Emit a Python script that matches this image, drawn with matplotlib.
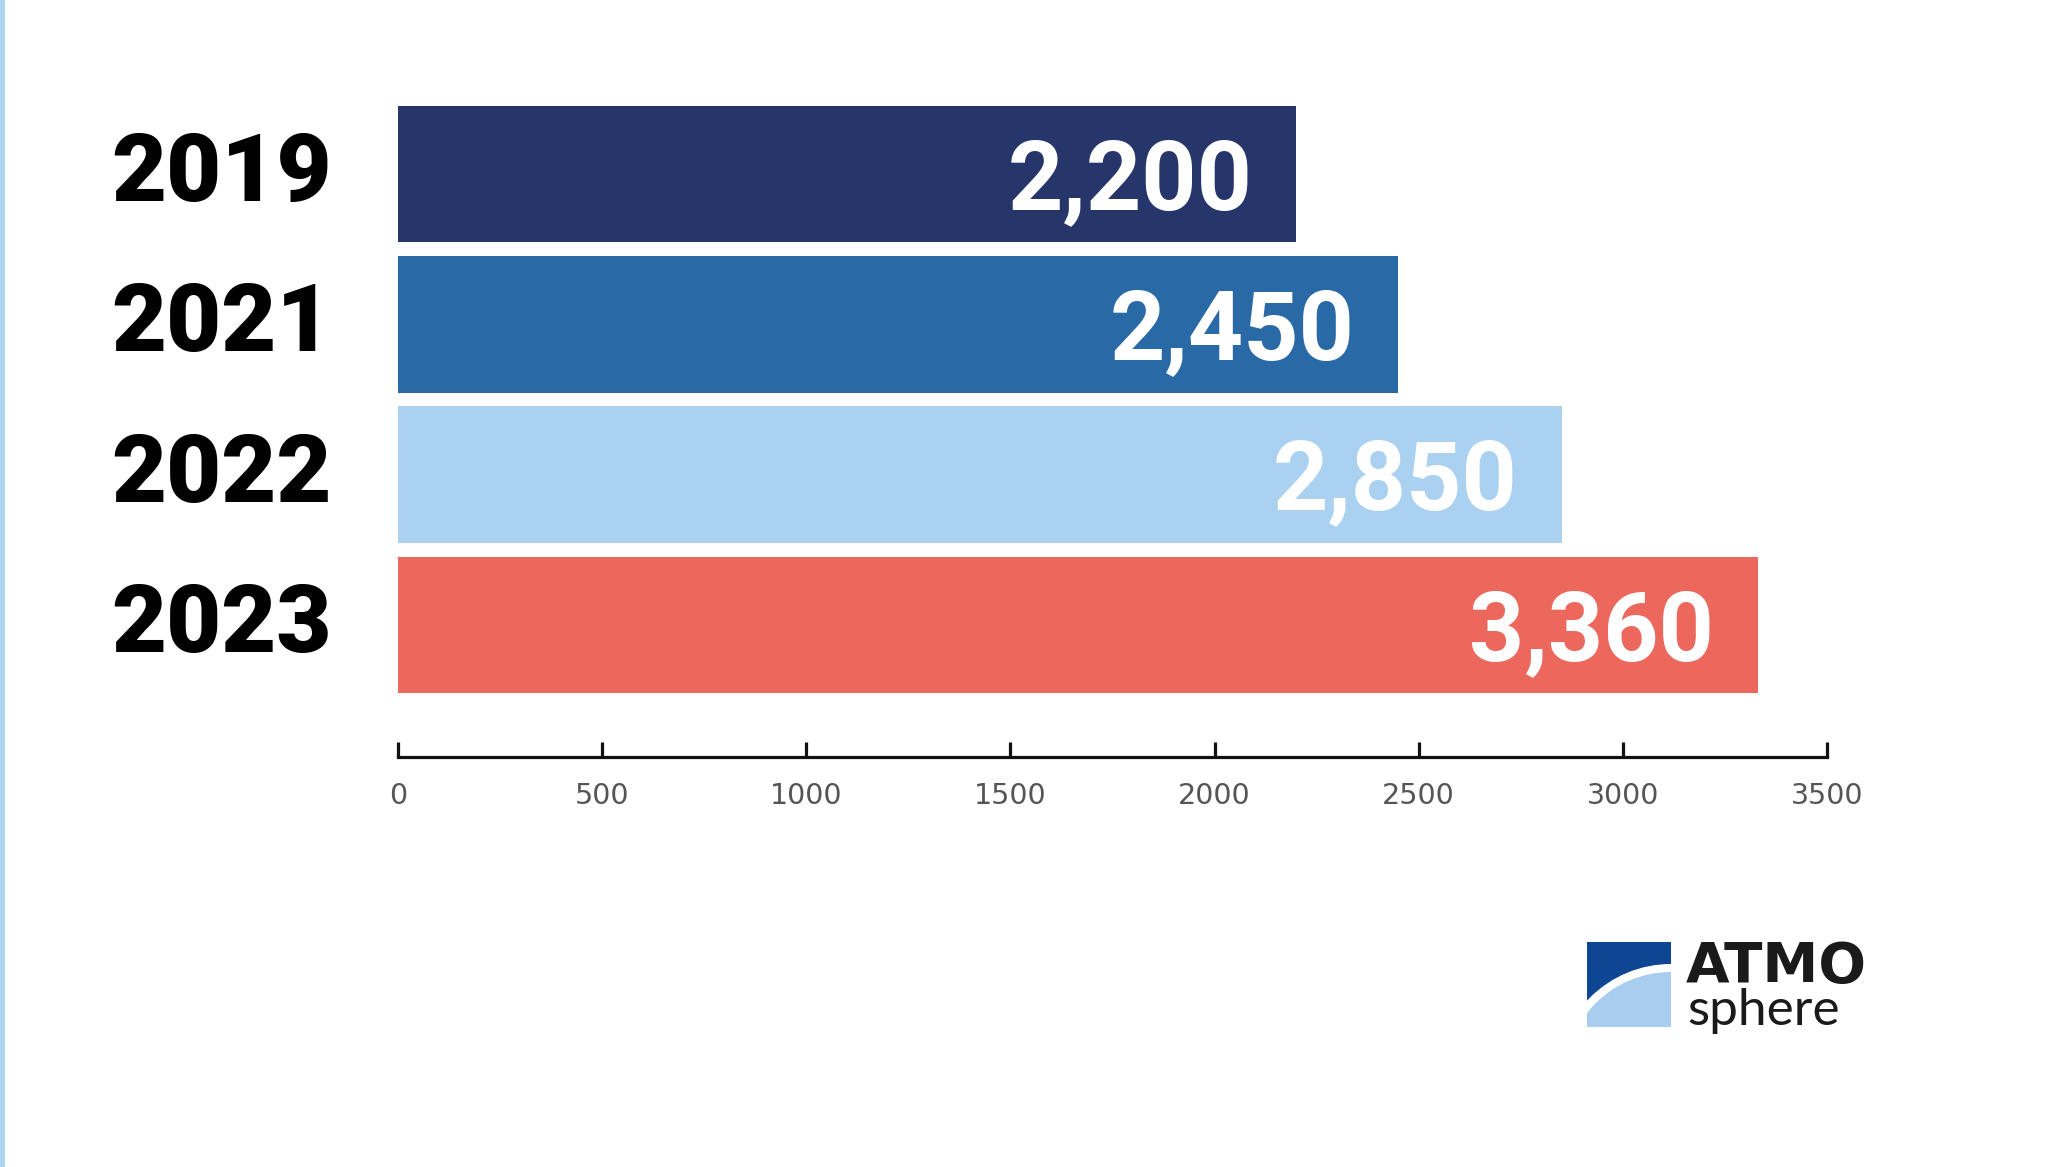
import matplotlib
matplotlib.use("Agg")
import matplotlib.pyplot as plt
import matplotlib.transforms as mtransforms
from matplotlib.patches import Rectangle, Circle

# ---- data ----
years = ["2019", "2021", "2022", "2023"]
values = [2200, 2450, 2850, 3330]
value_labels = ["2,200", "2,450", "2,850", "3,360"]
colors = ["#26366a", "#2969a5", "#aad1f0", "#ec685d"]
xticks = [0, 500, 1000, 1500, 2000, 2500, 3000, 3500]

W, H = 2049, 1167
DPI = 100
fig = plt.figure(figsize=(W / DPI, H / DPI), dpi=DPI)
fig.patch.set_facecolor("white")

# light-blue strip on left edge
fig.patches.append(Rectangle((0, 0), 5 / W, 1, transform=fig.transFigure,
                             facecolor="#aed4f2", edgecolor="none", zorder=0))

# main axes (pixel geometry)
ax_left, ax_right, ax_top, ax_bottom = 398, 1827, 80, 757
ax = fig.add_axes([ax_left / W, 1 - ax_bottom / H,
                   (ax_right - ax_left) / W, (ax_bottom - ax_top) / H])
ypos = list(range(len(years)))
ax.barh(ypos, values, height=0.907, color=colors, edgecolor="none")
ax.set_xlim(0, 3500)
ax.set_ylim(3.88, -0.627)

for s in ["top", "right", "left"]:
    ax.spines[s].set_visible(False)
ax.spines["bottom"].set_linewidth(2.3)
ax.spines["bottom"].set_color("#111111")
ax.spines["bottom"].set_bounds(0, 3500)
ax.set_yticks([])
ax.set_xticks(xticks)
ax.set_xticklabels([str(t) for t in xticks])
ax.tick_params(axis="x", direction="in", length=11, width=2.3, color="#111111",
               pad=18, labelsize=20.5, labelcolor="#555555")
for lbl in ax.get_xticklabels():
    lbl.set_fontfamily("DejaVu Sans")
ax.set_facecolor("none")

# value labels inside bars (baseline offset so caps are centred)
pad_px = 44
for y, v, lab in zip(ypos, values, value_labels):
    tr = mtransforms.offset_copy(ax.transData, fig=fig, x=-pad_px, y=-35, units="dots")
    ax.text(v, y, lab, transform=tr, ha="right", va="baseline", color="white",
            fontsize=69.5, fontweight="bold", fontfamily="Roboto")

# year labels on left
blend = mtransforms.blended_transform_factory(fig.transFigure, ax.transData)
for y, yr in zip(ypos, years):
    tr = mtransforms.offset_copy(blend, fig=fig, x=0, y=-34 + 7, units="dots")
    ax.text(111 / W, y, yr, transform=tr, ha="left", va="baseline", color="black",
            fontsize=68.5, fontweight="heavy", fontfamily="Roboto", clip_on=False)

# ---- logo (small axes in pixel units) ----
lx0, lx1, ly0, ly1 = 1575, 1890, 925, 1055
lax = fig.add_axes([lx0 / W, 1 - ly1 / H, (lx1 - lx0) / W, (ly1 - ly0) / H])
lax.set_xlim(lx0, lx1)
lax.set_ylim(ly1, ly0)
lax.axis("off")
sq = Rectangle((1587, 942), 84, 85, facecolor="#0f4694", edgecolor="none")
lax.add_patch(sq)
clip = Rectangle((1587, 942), 84, 85, transform=lax.transData)
c_white = Circle((1671, 1078.5), 114.5, facecolor="white", edgecolor="none")
c_light = Circle((1671, 1078.5), 106.5, facecolor="#a8cdee", edgecolor="none")
for c in (c_white, c_light):
    lax.add_patch(c)
    c.set_clip_path(clip)
lax.text(1686, 982, "ATMO", ha="left", va="baseline", fontsize=40.5,
         fontweight="bold", fontfamily="DejaVu Sans", color="#1a1a1a")
lax.text(1687, 1025, "sphere", ha="left", va="baseline", fontsize=37,
         fontweight="normal", fontfamily="Lato", color="#1a1a1a")

fig.savefig("out.png", dpi=DPI, facecolor="white")
